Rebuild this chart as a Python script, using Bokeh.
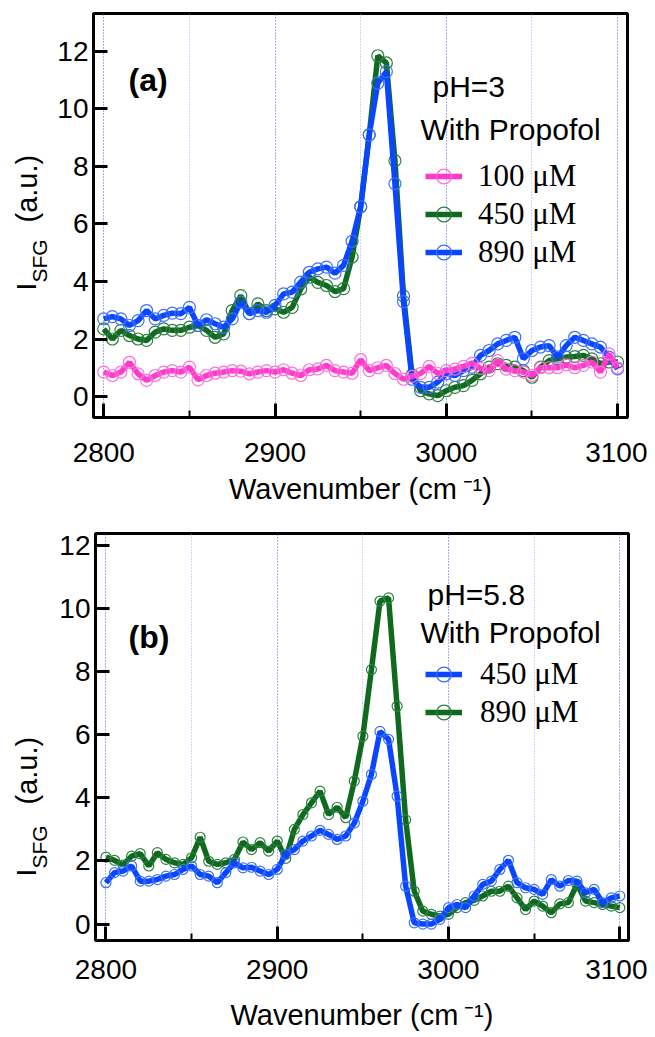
import math
from bokeh.plotting import figure
from bokeh.models import FixedTicker, Label, Legend, LegendItem, Range1d
from bokeh.layouts import column, row
from bokeh.embed import file_html
from bokeh.resources import INLINE

# ---------------- data ----------------
wavenumber = [2800, 2805, 2810, 2815, 2820, 2825, 2830, 2835, 2840, 2845,
              2850, 2855, 2860, 2865, 2870, 2875, 2880, 2885, 2890, 2895,
              2900, 2905, 2910, 2915, 2920, 2925, 2930, 2935, 2940, 2945,
              2950, 2955, 2960, 2965, 2970, 2975, 2980, 2985, 2990, 2995,
              3000, 3005, 3010, 3015, 3020, 3025, 3030, 3035, 3040, 3045,
              3050, 3055, 3060, 3065, 3070, 3075, 3080, 3085, 3090, 3095, 3100]

# panel (a): pH = 3
a_100uM = [0.85, 0.73, 0.85, 1.19, 0.79, 0.56, 0.73, 0.85, 0.90, 0.85,
           1.02, 0.58, 0.73, 0.81, 0.85, 0.90, 0.88, 0.79, 0.85, 0.90,
           0.85, 0.93, 0.81, 0.73, 0.93, 0.96, 1.08, 0.90, 0.85, 0.81,
           1.28, 0.90, 1.00, 1.08, 0.80, 0.60, 0.70, 0.80, 1.05, 0.80,
           0.90, 0.95, 1.05, 1.15, 0.98, 0.90, 1.25, 0.95, 0.90, 0.85,
           0.73, 1.00, 1.00, 1.00, 1.10, 1.00, 1.08, 1.20, 0.85, 1.48, 1.00]
a_450uM = [2.35, 2.00, 2.30, 2.12, 2.00, 1.95, 2.24, 2.35, 2.30, 2.30,
           2.41, 2.47, 2.30, 2.06, 2.18, 2.99, 3.51, 2.88, 3.22, 2.99,
           3.05, 2.93, 3.10, 3.74, 4.15, 3.97, 3.86, 3.65, 3.75, 4.85,
           6.60, 9.10, 11.85, 11.60, 8.20, 3.50, 0.75, 0.20, 0.09, 0.03,
           0.20, 0.32, 0.38, 0.56, 0.79, 1.02, 1.14, 1.08, 1.02, 0.90,
           0.67, 1.02, 1.25, 1.31, 1.37, 1.39, 1.43, 1.31, 1.14, 1.20, 1.20]
a_890uM = [2.70, 2.78, 2.70, 2.47, 2.64, 2.99, 2.70, 2.82, 2.90, 2.88,
           3.10, 2.47, 2.67, 2.53, 2.41, 2.70, 3.28, 2.88, 2.99, 2.93,
           3.17, 3.57, 3.63, 3.98, 4.32, 4.44, 4.50, 4.29, 4.56, 5.40,
           6.60, 9.10, 10.90, 11.30, 7.40, 3.30, 0.60, 0.32, 0.32, 0.50,
           0.79, 0.73, 0.90, 1.02, 1.43, 1.60, 1.83, 1.95, 2.06, 1.31,
           1.60, 1.72, 1.77, 1.37, 1.77, 2.06, 1.95, 1.83, 1.72, 1.37, 0.96]

# panel (b): pH = 5.8
b_450uM = [1.31, 1.63, 1.68, 1.84, 1.36, 1.36, 1.41, 1.52, 1.57, 1.73,
           1.84, 1.57, 1.52, 1.31, 1.63, 1.94, 1.78, 1.80, 1.68, 1.57,
           1.73, 2.21, 2.36, 2.63, 2.79, 2.97, 2.84, 2.68, 2.79, 3.20,
           3.89, 4.74, 6.10, 5.85, 4.05, 1.20, 0.04, 0.00, 0.00, 0.15,
           0.52, 0.62, 0.52, 0.89, 1.26, 1.36, 1.73, 2.02, 1.31, 1.15,
           1.10, 0.94, 1.41, 1.20, 1.38, 1.36, 0.99, 1.10, 0.68, 0.83, 0.89]
b_890uM = [2.12, 2.02, 1.87, 2.15, 2.23, 1.84, 2.26, 2.05, 1.94, 1.89,
           2.10, 2.75, 1.99, 1.89, 1.94, 2.05, 2.60, 2.36, 2.58, 2.31,
           2.63, 2.08, 3.00, 3.47, 3.84, 4.21, 3.47, 3.70, 3.37, 4.53,
           5.95, 8.06, 10.23, 10.33, 6.90, 3.30, 1.04, 0.41, 0.31, 0.25,
           0.31, 0.52, 0.68, 0.75, 0.89, 1.04, 1.04, 1.20, 0.83, 0.46,
           0.73, 0.57, 0.36, 0.64, 0.68, 1.26, 0.73, 0.68, 0.62, 0.57, 0.52]

x_ticks = [2800, 2900, 3000, 3100]
x_minor_ticks = [2850, 2950, 3050]
y_ticks = [0, 2, 4, 6, 8, 10, 12]
x_title = "Wavenumber (cm\u2009\u207b\u00b9)"

PINK = "#ff3acb"
PINK_M = "#ff6fdc"
GREEN = "#0f6a1f"
GREEN_M = "#2e8040"
BLUE = "#0a46ff"
BLUE_M = "#3a70ff"

SANS = "Liberation Sans"
SERIF = "Liberation Serif"


def make_fig(xr, yr, fw, fh, mbl, mbr, mbt, mbb, xstand, lstand):
    p = figure(frame_width=fw, frame_height=fh,
               x_range=Range1d(*xr), y_range=Range1d(*yr),
               output_backend="svg", toolbar_location=None,
               min_border_left=mbl, min_border_right=mbr,
               min_border_top=mbt, min_border_bottom=mbb)
    p.background_fill_color = "white"
    p.border_fill_color = "white"
    p.outline_line_color = "black"
    p.outline_line_width = 3
    p.outline_line_alpha = 1.0

    xa = p.xaxis[0]
    xa.ticker = FixedTicker(ticks=x_ticks, minor_ticks=x_minor_ticks)
    xa.axis_line_width = 3
    xa.major_tick_in = 14
    xa.major_tick_out = 0
    xa.major_tick_line_width = 3
    xa.minor_tick_in = 7
    xa.minor_tick_out = 0
    xa.minor_tick_line_width = 2
    xa.major_label_text_font = SANS
    xa.major_label_text_font_size = "28px"
    xa.major_label_text_color = "black"
    xa.major_label_standoff = xstand
    xa.axis_label = x_title
    xa.axis_label_text_font = SANS
    xa.axis_label_text_font_size = "29px"
    xa.axis_label_text_font_style = "normal"
    xa.axis_label_text_color = "black"
    xa.axis_label_standoff = lstand

    ya = p.yaxis[0]
    ya.ticker = FixedTicker(ticks=y_ticks, minor_ticks=[])
    ya.axis_line_width = 3
    ya.major_tick_in = 14
    ya.major_tick_out = 0
    ya.major_tick_line_width = 3
    ya.minor_tick_line_color = None
    ya.major_label_text_font = SANS
    ya.major_label_text_font_size = "28px"
    ya.major_label_text_color = "black"
    ya.major_label_standoff = 5

    p.xgrid.grid_line_color = "#5a5ae0"
    p.xgrid.grid_line_dash = "1 2"
    p.xgrid.grid_line_width = 1
    p.xgrid.minor_grid_line_color = "#a8a8f0"
    p.xgrid.minor_grid_line_dash = "1 2"
    p.xgrid.minor_grid_line_width = 1
    p.ygrid.grid_line_color = None
    return p


def text_fig(w, h):
    """A blank strip that only carries the rotated y-axis title."""
    f = figure(width=w, height=h, x_range=Range1d(0, w), y_range=Range1d(0, h),
               output_backend="svg", toolbar_location=None, min_border=0,
               x_axis_location=None, y_axis_location=None)
    f.outline_line_color = None
    f.background_fill_color = "white"
    f.border_fill_color = "white"
    f.grid.visible = False
    return f


def series(p, y, color, mcolor, size):
    ln = p.line(wavenumber, y, line_color=color, line_width=5.5)
    sc = p.scatter(wavenumber, y, marker="circle", size=size, fill_color=None,
                   line_color=mcolor, line_width=1.2)
    return ln, sc


def add_text(p, x, y, text, font=SANS, size="30px", style="normal",
             align="left", baseline="alphabetic", angle=0.0):
    p.add_layout(Label(x=x, y=y, x_units="screen", y_units="screen", text=text,
                       text_font=font, text_font_size=size, text_font_style=style,
                       text_color="black", text_align=align,
                       text_baseline=baseline, angle=angle, angle_units="rad"))


def y_title(f, y0, gap):
    a = math.pi / 2
    add_text(f, 26, y0, "I", size="28px", angle=a)
    add_text(f, 39, y0 + 8, "SFG", size="21px", angle=a)
    add_text(f, 26, y0 + gap, "(a.u.)", size="29px", angle=a)


def legend(p, items, loc, standoff):
    lg = Legend(items=items, location=loc, orientation="vertical",
                label_text_font=SERIF, label_text_font_size="31px",
                label_text_color="black", glyph_width=37, glyph_height=38,
                label_height=38, label_standoff=standoff, spacing=0,
                padding=0, margin=0, border_line_color=None,
                background_fill_alpha=0.0)
    p.add_layout(lg)


# ---------------- panel (a) ----------------
p1 = make_fig((2794.0, 3105.8), (-0.73, 13.32), 534, 404, 39, 20, 13, 95, 25, 8)
g1 = series(p1, a_450uM, GREEN, GREEN_M, 12)
b1 = series(p1, a_890uM, BLUE, BLUE_M, 12)
k1 = series(p1, a_100uM, PINK, PINK_M, 12)
legend(p1, [LegendItem(label="100 \u03bcM", renderers=list(k1)),
            LegendItem(label="450 \u03bcM", renderers=list(g1)),
            LegendItem(label="890 \u03bcM", renderers=list(b1))],
       (332, 146), 16)
add_text(p1, 339, 331, "pH=3")
add_text(p1, 327, 288, "With Propofol")
add_text(p1, 35, 338, "(a)", size="32px", style="bold")

yl1 = text_fig(54, 512)
y_title(yl1, 127, 68)

# ---------------- panel (b) ----------------
p2 = make_fig((2793.9, 3105.1), (-0.52, 12.37), 533, 407, 41, 19, 21, 95, 19, 17)
g2 = series(p2, b_890uM, GREEN, GREEN_M, 10)
b2 = series(p2, b_450uM, BLUE, BLUE_M, 10)
legend(p2, [LegendItem(label="450 \u03bcM", renderers=list(b2)),
            LegendItem(label="890 \u03bcM", renderers=list(g2))],
       (330, 209), 18)
add_text(p2, 332, 346, "pH=5.8")
add_text(p2, 325, 308, "With Propofol")
add_text(p2, 33, 304, "(b)", size="32px", style="bold")

yl2 = text_fig(54, 523)
y_title(yl2, 64, 72)

layout = column(row(yl1, p1), row(yl2, p2))
open("out.html", "w").write(file_html(layout, INLINE))
